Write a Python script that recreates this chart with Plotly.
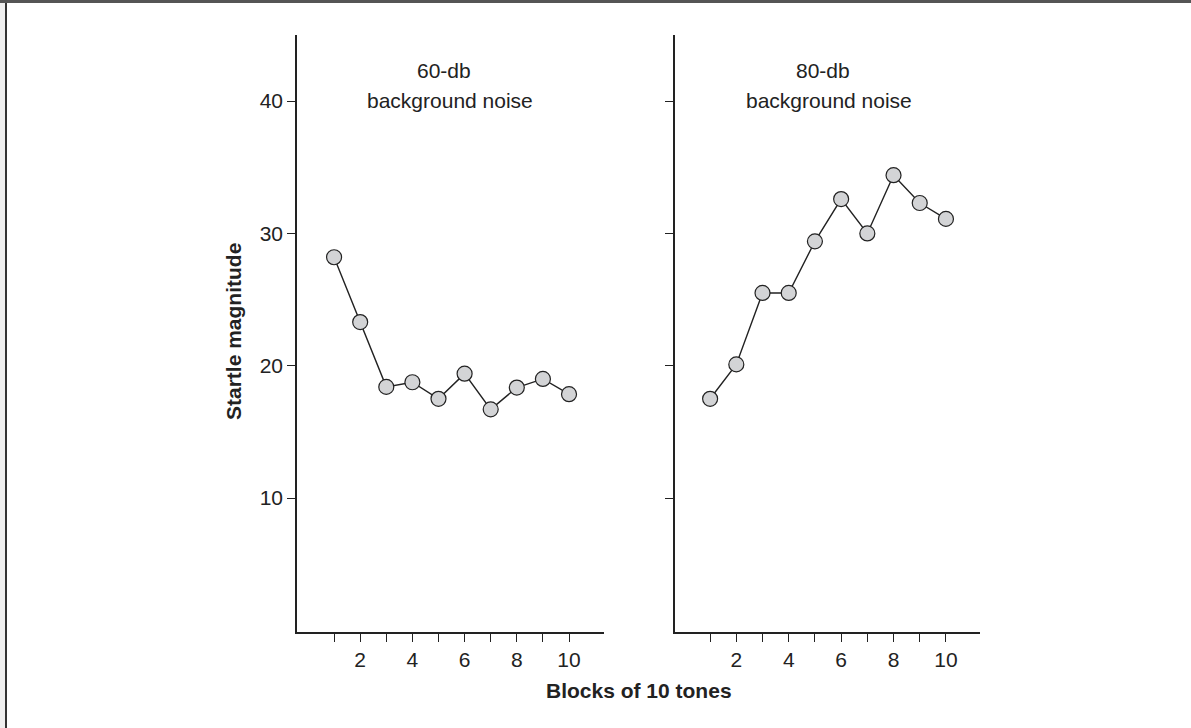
import plotly.graph_objects as go

blocks = [1, 2, 3, 4, 5, 6, 7, 8, 9, 10]
startle_60db = [28.2, 23.3, 18.4, 18.75, 17.5, 19.4, 16.7, 18.35, 19.0, 17.85]
startle_80db = [17.5, 20.1, 25.5, 25.5, 29.4, 32.6, 30.0, 34.4, 32.3, 31.1]
x_ticktext = ["", "2", "", "4", "", "6", "", "8", "", "10"]
y_ticks = [10, 20, 30, 40]
panel_titles = ["60-db", "80-db"]
panel_subtitle = "background noise"
y_title = "Startle magnitude"
x_title = "Blocks of 10 tones"

W, H = 1191, 728
FONT = "Liberation Sans, Arial, Helvetica, sans-serif"
FS = 21


def px(x):
    return x / W


def py(y):
    return 1 - y / H


fig = go.Figure()

marker = dict(size=15, color="#d3d4d6", line=dict(color="#222222", width=1.2))
line = dict(color="#222222", width=1.4)

fig.add_trace(go.Scatter(x=blocks, y=startle_60db, mode="lines+markers",
                         marker=marker, line=line, xaxis="x", yaxis="y",
                         showlegend=False))
fig.add_trace(go.Scatter(x=blocks, y=startle_80db, mode="lines+markers",
                         marker=marker, line=line, xaxis="x2", yaxis="y2",
                         showlegend=False))

common_x = dict(
    tickmode="array", tickvals=blocks, ticktext=x_ticktext,
    ticks="outside", ticklen=8, tickwidth=1.3, tickcolor="#222222",
    showline=True, linecolor="#222222", linewidth=1.5,
    showgrid=False, zeroline=False, automargin=False,
    tickfont=dict(family=FONT, size=FS, color="#222222"),
)
common_y = dict(
    tickmode="array", tickvals=y_ticks,
    ticks="outside", ticklen=8, tickwidth=1.3, tickcolor="#222222",
    showline=True, linecolor="#222222", linewidth=1.5,
    showgrid=False, zeroline=False, automargin=False,
    range=[-0.13, 45],
    tickfont=dict(family=FONT, size=FS, color="#222222"),
)


def ann(x, y, text, angle=0):
    return dict(x=px(x), y=py(y), xref="paper", yref="paper", text=text,
                showarrow=False, xanchor="center", yanchor="middle",
                textangle=angle,
                font=dict(family=FONT, size=FS, color="#222222"))


annotations = []
for cx, title in zip([444, 823], panel_titles):
    annotations.append(ann(cx, 70, title))
    annotations.append(ann(cx + 6, 101, panel_subtitle))
annotations.append(ann(234, 332, "<b>" + y_title + "</b>", -90))
annotations.append(ann(639, 690, "<b>" + x_title + "</b>"))

shapes = [
    dict(type="rect", xref="paper", yref="paper", x0=0, x1=1, y0=py(3), y1=1,
         fillcolor="#555555", line=dict(width=0), layer="below"),
    dict(type="rect", xref="paper", yref="paper", x0=0, x1=px(5), y0=0, y1=py(3),
         fillcolor="#efefef", line=dict(width=0), layer="below"),
    dict(type="rect", xref="paper", yref="paper", x0=px(5), x1=px(7), y0=0, y1=py(3),
         fillcolor="#333333", line=dict(width=0), layer="below"),
]

fig.update_layout(
    width=W, height=H,
    margin=dict(l=0, r=0, t=0, b=0),
    paper_bgcolor="white", plot_bgcolor="white",
    xaxis=dict(domain=[px(297), px(604)], range=[-0.42, 11.34], anchor="y", **common_x),
    yaxis=dict(domain=[py(632), py(35)], anchor="x", showticklabels=True, **common_y),
    xaxis2=dict(domain=[px(675), px(980)], range=[-0.34, 11.3], anchor="y2", **common_x),
    yaxis2=dict(domain=[py(632), py(35)], anchor="x2", showticklabels=False, **common_y),
    annotations=annotations,
    shapes=shapes,
    font=dict(family=FONT, color="#222222"),
)

fig.write_html("out.html", config={"displayModeBar": False},
               post_script="document.body.style.margin='0';document.body.style.overflow='hidden';")
